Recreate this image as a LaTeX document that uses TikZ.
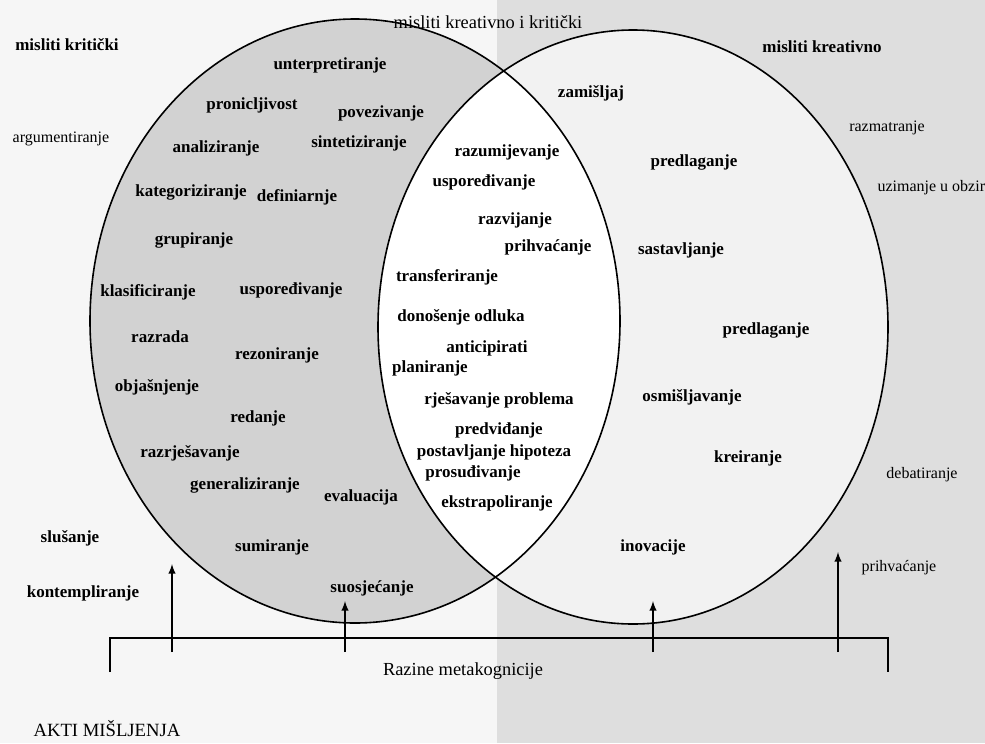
\documentclass[tikz,border=0pt]{standalone}
\usepackage{fontspec}
\setmainfont{Liberation Serif}
\usepackage{tikz}
\tikzset{
    Word/.style = {inner sep=0pt, font=\bfseries\fontsize{12.75}{14}\selectfont}
}
\tikzset{
    Arrow/.style = {draw=black, line width=1.5pt, -latex}
}
\begin{document}
\begin{tikzpicture}[
    x=0.75pt, y=-0.75pt,
    thick
]
\tikzset{
    Plain/.style = {inner sep=0pt, font=\fontsize{12}{14}\selectfont},
    Bracket/.style = {draw=black, line width=1.5pt},
}

\useasboundingbox (0,0) rectangle (985,743);
\fill[gray!7] (0,0) rectangle (497,743);
\fill[gray!26] (497,0) rectangle (985,743);
\fill[gray!35] (355,321) ellipse [x radius=265, y radius=302];
\fill[gray!10] (633,327) ellipse [x radius=255, y radius=297];
\begin{scope}
\clip (355,321) ellipse [x radius=265, y radius=302];
\fill[white] (633,327) ellipse [x radius=255, y radius=297];
\end{scope}
\draw[line width=1.2pt] (355,321) ellipse [x radius=265, y radius=302];
\draw[line width=1.2pt] (633,327) ellipse [x radius=255, y radius=297];

\node[Word] at (67,45) (kriticki) {misliti kritički};
\node[Plain] at (61,139) (argum) {argumentiranje};
\node[Word] at (70,538) (slusanje) {slušanje};
\node[Word] at (83,593) (kontem) {kontempliranje};
\node[Plain, font=\fontsize{14}{16}\selectfont] at (107,729) (akti) {AKTI MIŠLJENJA};
\node[Plain, font=\fontsize{13.8}{16}\selectfont] at (488,22) (oboje) {misliti kreativno i kritički};
\node[Word] at (822,47) (kreativno) {misliti kreativno};
\node[Plain] at (887,128) (razmatr) {razmatranje};
\node[Plain, anchor=west] at (877,188) (uzimanje) {uzimanje u obzir};
\node[Plain] at (922,475) (debat) {debatiranje};
\node[Plain] at (899,568) (prihv2) {prihvaćanje};

\node[Word] at (330,65) (interp) {unterpretiranje};
\node[Word] at (252,105) (pronic) {pronicljivost};
\node[Word] at (381,113) (povez) {povezivanje};
\node[Word] at (216,148) (analiz) {analiziranje};
\node[Word] at (359,143) (sintet) {sintetiziranje};
\node[Word] at (191,192) (kateg) {kategoriziranje};
\node[Word] at (297,197) (defin) {definiarnje};
\node[Word] at (194,240) (grup) {grupiranje};
\node[Word] at (148,292) (klasif) {klasificiranje};
\node[Word] at (291,290) (uspor1) {uspoređivanje};
\node[Word] at (160,337) (razrada) {razrada};
\node[Word] at (277,355) (rezon) {rezoniranje};
\node[Word] at (157,387) (objas) {objašnjenje};
\node[Word] at (258,418) (redanje) {redanje};
\node[Word] at (190,453) (razrjes) {razrješavanje};
\node[Word] at (245,485) (general) {generaliziranje};
\node[Word] at (361,497) (evaluac) {evaluacija};
\node[Word] at (272,547) (sumir) {sumiranje};
\node[Word] at (372,588) (suosj) {suosjećanje};

\node[Word] at (591,93) (zamis) {zamišljaj};
\node[Word] at (507,152) (razum) {razumijevanje};
\node[Word] at (484,182) (uspor2) {uspoređivanje};
\node[Word] at (515,220) (razvij) {razvijanje};
\node[Word] at (548,247) (prihv1) {prihvaćanje};
\node[Word] at (447,277) (transf) {transferiranje};
\node[Word] at (461,317) (donos) {donošenje odluka};
\node[Word] at (487,348) (antic) {anticipirati};
\node[Word] at (430,368) (planir) {planiranje};
\node[Word] at (499,400) (rjesav) {rješavanje problema};
\node[Word] at (499,430) (predv) {predviđanje};
\node[Word] at (494,452) (hipot) {postavljanje hipoteza};
\node[Word] at (473,473) (prosud) {prosuđivanje};
\node[Word] at (497,503) (ekstrap) {ekstrapoliranje};

\node[Word] at (694,162) (predl1) {predlaganje};
\node[Word] at (681,250) (sastav) {sastavljanje};
\node[Word] at (766,330) (predl2) {predlaganje};
\node[Word] at (692,397) (osmis) {osmišljavanje};
\node[Word] at (748,458) (kreir) {kreiranje};
\node[Word] at (653,547) (inov) {inovacije};

\node[Plain, font=\fontsize{13.8}{16}\selectfont] at (463,671) (razine) {Razine metakognicije};

\coordinate (b1) at (110,672);
\coordinate (b2) at (110,638);
\coordinate (b3) at (888,638);
\coordinate (b4) at (888,672);
\draw[Bracket] (b1) -- (b2) -- (b3) -- (b4);

\coordinate (t1) at (172,652);
\coordinate (h1) at (172,564);
\coordinate (t2) at (345,652);
\coordinate (h2) at (345,601);
\coordinate (t3) at (653,652);
\coordinate (h3) at (653,601);
\coordinate (t4) at (838,652);
\coordinate (h4) at (838,552);
\path (t1) edge [Arrow] (h1);
\path (t2) edge [Arrow] (h2);
\path (t3) edge [Arrow] (h3);
\path (t4) edge [Arrow] (h4);
\end{tikzpicture}
\end{document}
